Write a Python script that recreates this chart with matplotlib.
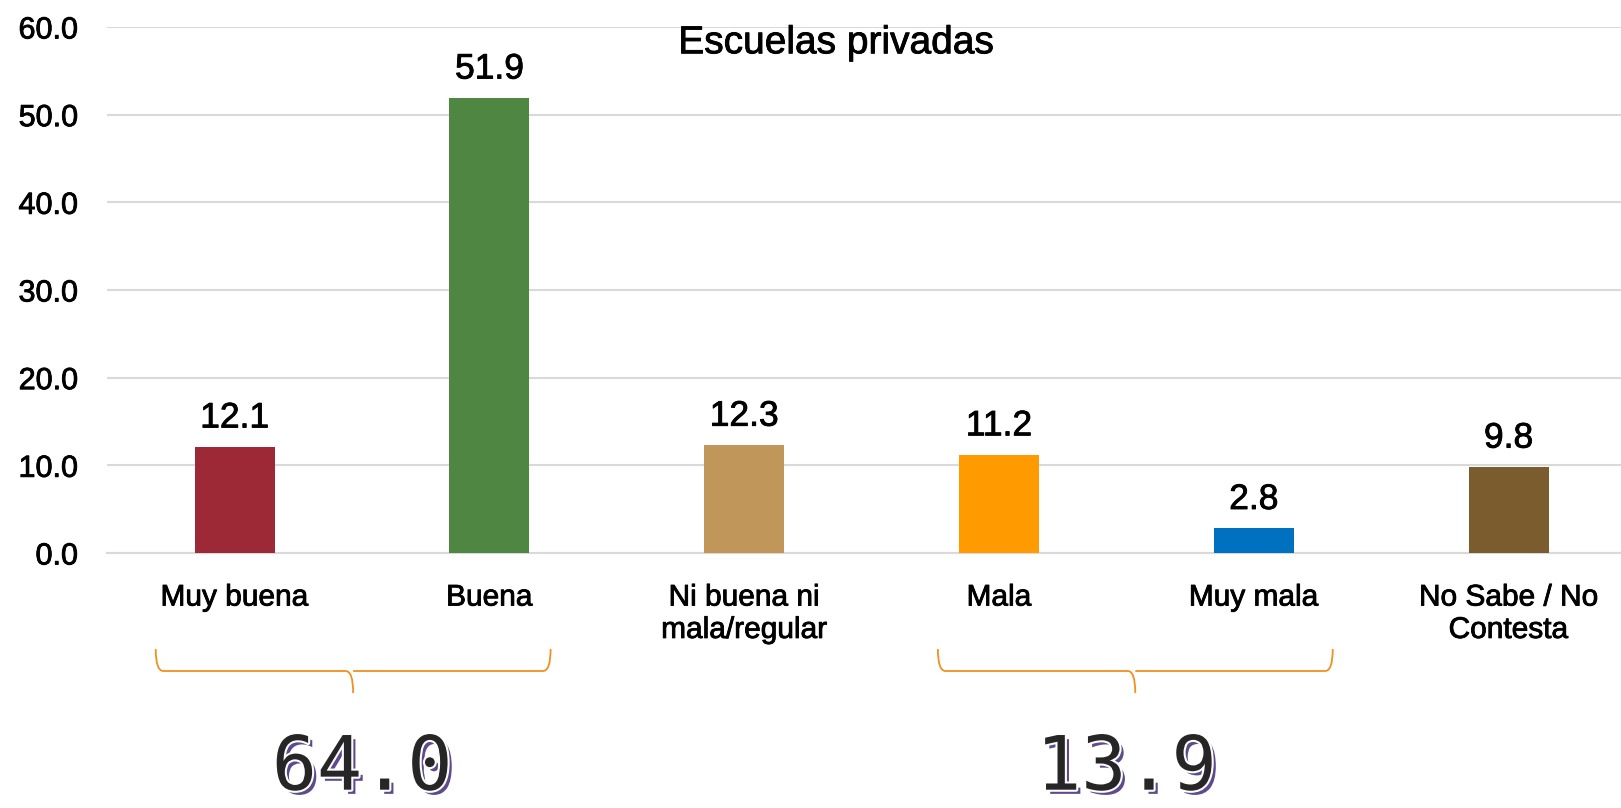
import matplotlib
matplotlib.use("Agg")
import matplotlib.pyplot as plt
import matplotlib.patheffects as pe
from matplotlib.path import Path
from matplotlib.patches import PathPatch

plt.rcParams['font.family'] = ['Liberation Sans', 'DejaVu Sans']

# --- data ---
categories = ["Muy buena", "Buena", "Ni buena ni\nmala/regular", "Mala", "Muy mala",
              "No Sabe / No\nContesta"]
values = [12.1, 51.9, 12.3, 11.2, 2.8, 9.8]
bar_colors = ["#9e2936", "#4e8642", "#c0965a", "#ff9a00", "#0070c0", "#7b5c2f"]
title = "Escuelas privadas"
yticks = [0, 10, 20, 30, 40, 50, 60]
# grouped totals: (first index, last index, label)
groups = [(0, 1, "64.0"), (3, 4, "13.9")]
# how far each brace reaches beyond its first / last bar centre
brace_reach = [(0.31, 0.24), (0.24, 0.31)]

fig = plt.figure(figsize=(16.21, 8.08), dpi=100)
ax = fig.add_axes([0.0662, 0.3156, 0.943, 0.651])

bold_fx = [pe.withStroke(linewidth=0.6, foreground="black")]

x = list(range(len(categories)))
bars = ax.bar(x, values, width=0.314, color=bar_colors, zorder=3)

for xi, v in zip(x, values):
    ax.annotate(f"{v:.1f}", (xi, v), xytext=(0, 14), textcoords="offset points",
                ha="center", va="baseline", fontsize=25.5, color="black",
                path_effects=bold_fx)

ax.set_xlim(-0.5, len(categories) - 0.5)
ax.set_ylim(0, 60)
ax.set_yticks(yticks)
ax.set_yticklabels([f"{t:.1f}" for t in yticks], fontsize=22)
ax.set_xticks(x)
ax.set_xticklabels(categories, fontsize=21.5, linespacing=1.2)
for lbl in ax.get_xticklabels() + ax.get_yticklabels():
    lbl.set_path_effects(bold_fx)
ax.tick_params(axis="both", length=0)
ax.tick_params(axis="y", pad=21)
ax.tick_params(axis="x", pad=22)
ax.grid(axis="y", color="#d9d9d9", linewidth=1.5, zorder=0)
for s in ["top", "right", "left"]:
    ax.spines[s].set_visible(False)
ax.spines["bottom"].set_color("#d9d9d9")
ax.spines["bottom"].set_linewidth(1.5)

ax.text(2.36, 57.0, title, ha="center", va="baseline", fontsize=28,
        path_effects=bold_fx)

# braces and group totals
y_top, y_mid, y_tip = -10.95, -13.46, -15.97
r = 0.03
for (first, last, label), (left, right) in zip(groups, brace_reach):
    x0 = first - left
    x1 = last + right
    xm = (x0 + x1) / 2
    verts = [
        (x0, y_top), (x0, y_mid), (x0 + r, y_mid),
        (xm - r, y_mid), (xm, y_mid), (xm, y_tip),
        (xm, y_mid), (xm + r, y_mid),
        (x1 - r, y_mid), (x1, y_mid), (x1, y_top),
    ]
    codes = [
        Path.MOVETO, Path.CURVE3, Path.CURVE3,
        Path.LINETO, Path.CURVE3, Path.CURVE3,
        Path.MOVETO, Path.LINETO,
        Path.LINETO, Path.CURVE3, Path.CURVE3,
    ]
    ax.add_patch(PathPatch(Path(verts, codes), facecolor="none", edgecolor="#f0901e",
                           linewidth=1.3, clip_on=False))
    ax.text((first + last) / 2, -27.0, label, ha="center", va="baseline",
            fontsize=54, family="DejaVu Sans Mono", color="#262626", clip_on=False,
            path_effects=[pe.SimplePatchShadow(offset=(3, -3), shadow_rgbFace="#5f4b8b",
                                               alpha=1.0),
                          pe.Stroke(linewidth=3, foreground="white"),
                          pe.Normal()])

fig.savefig("out.png", dpi=100)
